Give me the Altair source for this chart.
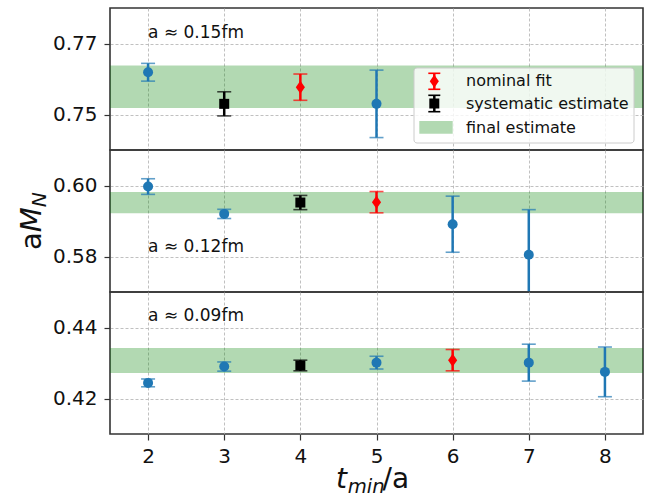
import altair as alt
import pandas as pd

# ---------------- data ----------------
x_ticks = [2, 3, 4, 5, 6, 7, 8]
x_domain = [1.5, 8.5]

panel_labels = ["a ≈ 0.15fm", "a ≈ 0.12fm", "a ≈ 0.09fm"]
label_y = [0.7729, 0.5828, 0.4431]
y_domains = [[0.74, 0.78], [0.57, 0.61], [0.41, 0.45]]
y_ticks = [[0.75, 0.77], [0.58, 0.60], [0.42, 0.44]]
band_center = [0.7578, 0.5952, 0.4307]
band_half = [0.0060, 0.0030, 0.0035]

t_015 = [2, 3, 4, 5, 6]
m_015 = [0.7619, 0.7530, 0.7577, 0.7530, 0.7320]
e_015 = [0.0025, 0.0034, 0.0037, 0.0095, 0.0080]
k_015 = ["fit", "systematic", "nominal", "fit", "fit"]

t_012 = [2, 3, 4, 5, 6, 7]
m_012 = [0.5997, 0.5920, 0.5952, 0.5953, 0.5891, 0.5805]
e_012 = [0.0022, 0.0013, 0.0020, 0.0030, 0.0079, 0.0127]
k_012 = ["fit", "fit", "systematic", "nominal", "fit", "fit"]

t_009 = [2, 3, 4, 5, 6, 7, 8]
m_009 = [0.4244, 0.4290, 0.4293, 0.4301, 0.4308, 0.4301, 0.4275]
e_009 = [0.0011, 0.0013, 0.0015, 0.0018, 0.0030, 0.0052, 0.0070]
k_009 = ["fit", "fit", "systematic", "fit", "nominal", "fit", "fit"]

series = [(t_015, m_015, e_015, k_015), (t_012, m_012, e_012, k_012), (t_009, m_009, e_009, k_009)]

legend_labels = ["nominal fit", "systematic estimate", "final estimate"]

kinds = ["fit", "nominal", "systematic"]
kind_colors = ["#1f77b4", "#ff0000", "#000000"]
kind_shapes = ["circle", "M0,-1L0.7,0L0,1L-0.7,0Z", "square"]
kind_sizes = [100, 170, 100]

FONT = "DejaVu Sans"
W = 533
H = 142


def one(values):
    return alt.Data(values=[values])


def panel(i):
    t, m, e, k = series[i]
    df = pd.DataFrame({"t": t, "m": m, "e": e, "kind": k})
    df["lo"] = df["m"] - df["e"]
    df["hi"] = df["m"] + df["e"]
    bottom = i == 2

    xs = alt.Scale(domain=x_domain, nice=False, zero=False)
    ys = alt.Scale(domain=y_domains[i], nice=False, zero=False)
    xaxis = alt.Axis(values=x_ticks, labels=bottom, ticks=bottom, title=None, grid=True,
                     domain=False, labelPadding=6, tickSize=6, labelFontSize=20)
    yaxis = alt.Axis(values=y_ticks[i], format=".2f", title=None, grid=True, domain=False,
                     tickSize=6, labelPadding=7, labelFontSize=20)
    col = alt.Color("kind:N", scale=alt.Scale(domain=kinds, range=kind_colors), legend=None)

    base = alt.Chart(df)

    band = alt.Chart(one({"lo": band_center[i] - band_half[i], "hi": band_center[i] + band_half[i]})).mark_rect(
        color="green", opacity=0.3, clip=True
    ).encode(
        x=alt.value(0), x2=alt.value("width"),
        y=alt.Y("lo:Q", scale=ys, axis=yaxis), y2="hi:Q",
    )

    bars = base.mark_rule(strokeWidth=2.5, clip=True).encode(
        x=alt.X("t:Q", scale=xs, axis=xaxis),
        y=alt.Y("lo:Q", scale=ys, axis=yaxis), y2="hi:Q", color=col,
    )
    cap_lo = base.mark_tick(orient="horizontal", size=14, thickness=1.6, clip=True).encode(
        x=alt.X("t:Q", scale=xs, axis=xaxis), y=alt.Y("lo:Q", scale=ys, axis=yaxis), color=col,
    )
    cap_hi = base.mark_tick(orient="horizontal", size=14, thickness=1.6, clip=True).encode(
        x=alt.X("t:Q", scale=xs, axis=xaxis), y=alt.Y("hi:Q", scale=ys, axis=yaxis), color=col,
    )
    pts = []
    for kd, c, s, sz in zip(kinds, kind_colors, kind_shapes, kind_sizes):
        pts.append(
            base.transform_filter(alt.datum.kind == kd).mark_point(
                filled=True, shape=s, size=sz, color=c, opacity=1, clip=True
            ).encode(x=alt.X("t:Q", scale=xs, axis=xaxis), y=alt.Y("m:Q", scale=ys, axis=yaxis))
        )

    lab = alt.Chart(one({"t": x_ticks[0], "ly": label_y[i], "label": panel_labels[i]})).mark_text(
        align="left", baseline="middle", fontSize=17, font=FONT, color="#111"
    ).encode(
        x=alt.X("t:Q", scale=xs, axis=xaxis), y=alt.Y("ly:Q", scale=ys, axis=yaxis), text="label:N"
    )

    layers = [band, bars, cap_lo, cap_hi] + pts + [lab]

    # invisible anchor to fix the left extent
    layers.append(alt.Chart(one({})).mark_rule(opacity=0, strokeWidth=0).encode(
        x=alt.value(-109), y=alt.value(10), y2=alt.value(11)))

    if i == 0:
        # legend
        layers.append(alt.Chart(one({})).mark_rect(
            fill="white", fillOpacity=0.8, stroke="#cccccc", strokeWidth=1, cornerRadius=3
        ).encode(x=alt.value(304), x2=alt.value(524), y=alt.value(60), y2=alt.value(135)))
        # nominal fit symbol
        layers.append(alt.Chart(one({})).mark_rule(color="red", strokeWidth=2.5).encode(
            x=alt.value(324.3), y=alt.value(65.3), y2=alt.value(81.3)))
        for yy in (65.3, 81.3):
            layers.append(alt.Chart(one({})).mark_rule(color="red", strokeWidth=1.6).encode(
                x=alt.value(318.3), x2=alt.value(330.3), y=alt.value(yy)))
        layers.append(alt.Chart(one({})).mark_point(
            filled=True, shape=kind_shapes[1], size=170, color="red", opacity=1
        ).encode(x=alt.value(324.3), y=alt.value(73.3)))
        # systematic symbol
        layers.append(alt.Chart(one({})).mark_rule(color="black", strokeWidth=2.5).encode(
            x=alt.value(324.3), y=alt.value(87.3), y2=alt.value(103.7)))
        for yy in (87.3, 103.7):
            layers.append(alt.Chart(one({})).mark_rule(color="black", strokeWidth=1.6).encode(
                x=alt.value(318.3), x2=alt.value(330.3), y=alt.value(yy)))
        layers.append(alt.Chart(one({})).mark_point(
            filled=True, shape="square", size=100, color="black", opacity=1
        ).encode(x=alt.value(324.3), y=alt.value(95.5)))
        # final estimate patch
        layers.append(alt.Chart(one({})).mark_rect(color="green", opacity=0.3).encode(
            x=alt.value(309.3), x2=alt.value(342.7), y=alt.value(113), y2=alt.value(125.7)))
        for lbl, yy in zip(legend_labels, (73, 96, 119.5)):
            layers.append(alt.Chart(one({"l": lbl})).mark_text(
                align="left", baseline="middle", fontSize=16, font=FONT, color="#111"
            ).encode(x=alt.value(356), y=alt.value(yy), text="l:N"))

    if i == 1:
        # y axis title  a M_N
        layers.append(alt.Chart(one({"s": "a"})).mark_text(
            angle=270, align="left", baseline="alphabetic", fontSize=29, font=FONT, color="#111"
        ).encode(x=alt.value(-69), y=alt.value(100), text="s:N"))
        layers.append(alt.Chart(one({"s": "M"})).mark_text(
            angle=270, align="left", baseline="alphabetic", fontSize=29, font=FONT, fontStyle="italic", color="#111"
        ).encode(x=alt.value(-69), y=alt.value(82.2), text="s:N"))
        layers.append(alt.Chart(one({"s": "N"})).mark_text(
            angle=270, align="left", baseline="alphabetic", fontSize=20.3, font=FONT, fontStyle="italic", color="#111"
        ).encode(x=alt.value(-64), y=alt.value(57.2), text="s:N"))

    if bottom:
        # x axis title t_min/a
        layers.append(alt.Chart(one({"s": "t"})).mark_text(
            align="left", baseline="alphabetic", fontSize=28, font=FONT, fontStyle="italic", color="#111"
        ).encode(x=alt.value(226), y=alt.value(195.7), text="s:N"))
        layers.append(alt.Chart(one({"s": "min"})).mark_text(
            align="left", baseline="alphabetic", fontSize=19.6, font=FONT, fontStyle="italic", color="#111"
        ).encode(x=alt.value(237.7), y=alt.value(200.7), text="s:N"))
        layers.append(alt.Chart(one({"s": "/a"})).mark_text(
            align="left", baseline="alphabetic", fontSize=28, font=FONT, color="#111"
        ).encode(x=alt.value(272.5), y=alt.value(195.7), text="s:N"))

    return alt.layer(*layers).properties(width=W, height=H)


chart = alt.vconcat(panel(0), panel(1), panel(2), spacing=0, bounds="flush").properties(
    padding={"left": 0, "top": 7, "right": 0, "bottom": 0}
).configure_view(
    stroke="#333333", strokeWidth=1.6
).configure_axis(
    labelFont=FONT, labelColor="#111111", tickColor="#333333", tickWidth=1.2,
    gridColor="#b0b0b0", gridDash=[3, 2], gridWidth=0.8,
).configure_concat(spacing=0)

chart.save("out.html", embed_options={"renderer": "svg", "actions": False})
